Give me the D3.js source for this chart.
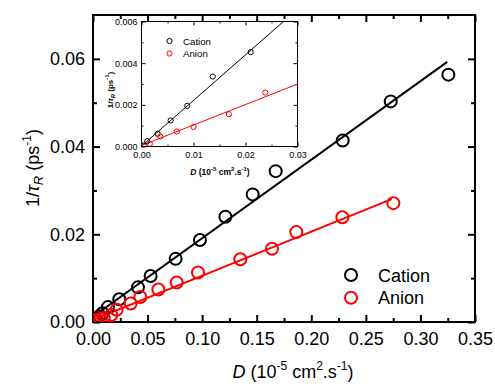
<!DOCTYPE html>
<html>
<head>
<meta charset="utf-8">
<script src="https://cdn.jsdelivr.net/npm/d3@7"></script>
<style>
  body { margin: 0; background: #fff; }
  text { font-family: Arial, "Liberation Sans", sans-serif; }
</style>
</head>
<body>
<script>
// Rotational rate 1/tau_R against diffusion coefficient D, cation and anion,
// with a zoomed inset of the low-D region.

// Main plot data: [D, 1/tauR]
var cationMain = [
  [0.0011, 0.0003], [0.0031, 0.0006], [0.0056, 0.0013], [0.0088, 0.0020],
  [0.0137, 0.0034], [0.0241, 0.0052], [0.0412, 0.0079], [0.0528, 0.0105],
  [0.0757, 0.0144], [0.0980, 0.0187], [0.1213, 0.0240], [0.1463, 0.0291],
  [0.1674, 0.0344], [0.2288, 0.0414], [0.2728, 0.0503], [0.3256, 0.0564]
];
var anionMain = [
  [0.0016, 0.0002], [0.0036, 0.0005], [0.0068, 0.0007], [0.0100, 0.0009],
  [0.0168, 0.0016], [0.0217, 0.0028], [0.0345, 0.0042], [0.0434, 0.0057],
  [0.0599, 0.0074], [0.0767, 0.0090], [0.0962, 0.0113], [0.1350, 0.0143],
  [0.1640, 0.0167], [0.1863, 0.0205], [0.2285, 0.0239], [0.2752, 0.0271]
];
// Linear fits: [intercept, slope, xStart, xEnd]
var cationFitMain = [0.0012, 0.179, 0, 0.3246];
var anionFitMain = [0.0005, 0.1005, 0, 0.2737];

// Inset data
var cationInset = [
  [0.00045, 0.00005], [0.0011, 0.00026], [0.0031, 0.00061], [0.0056, 0.00125],
  [0.0088, 0.00195], [0.0137, 0.00336], [0.0210, 0.00453]
];
var anionInset = [
  [0.0016, 0.00013], [0.0036, 0.00048], [0.0068, 0.00072], [0.0100, 0.00094],
  [0.0168, 0.00155], [0.0238, 0.00259]
];
var cationFitInset = [0.00002, 0.219, 0, 0.0273];
var anionFitInset = [0.00005, 0.0982, 0, 0.03];

var seriesNames = ['Cation', 'Anion'];
var seriesColors = ['#000000', '#ff0000'];

var mainXTicks = [0, 0.05, 0.10, 0.15, 0.20, 0.25, 0.30, 0.35];
var mainYTicks = [0, 0.02, 0.04, 0.06];
var insetXTicks = [0, 0.01, 0.02, 0.03];
var insetYTicks = [0, 0.002, 0.004, 0.006];

var width = 495, height = 384;

var svg = d3.select('body').append('svg')
  .attr('width', width)
  .attr('height', height);

// Draws a framed panel with inward ticks on all four sides.
function panel(opts) {
  var x = d3.scaleLinear().domain(opts.xDomain).range([opts.left, opts.right]),
      y = d3.scaleLinear().domain(opts.yDomain).range([opts.bottom, opts.top]),
      g = svg.append('g');

  g.append('rect')
    .attr('x', opts.left).attr('y', opts.top)
    .attr('width', opts.right - opts.left).attr('height', opts.bottom - opts.top)
    .attr('fill', '#fff');

  function midpoints(ticks) {
    return d3.pairs(ticks).map(function (p) { return (p[0] + p[1]) / 2; });
  }
  var xMinor = midpoints(opts.xTicks), yMinor = midpoints(opts.yTicks);

  function style(a) {
    a.select('.domain').remove();
    a.selectAll('line').attr('stroke', '#000').attr('stroke-width', opts.tickWidth);
    a.selectAll('text').attr('font-size', opts.fontSize).attr('fill', '#000')
      .attr('font-family', 'Arial, "Liberation Sans", sans-serif');
  }

  // bottom
  g.append('g').attr('transform', 'translate(0,' + opts.bottom + ')')
    .call(d3.axisBottom(x).tickValues(opts.xTicks).tickFormat(opts.xFormat)
      .tickSize(-opts.major).tickPadding(opts.padX)).call(style);
  g.append('g').attr('transform', 'translate(0,' + opts.bottom + ')')
    .call(d3.axisBottom(x).tickValues(xMinor).tickFormat('').tickSize(-opts.minor)).call(style);
  // top
  g.append('g').attr('transform', 'translate(0,' + opts.top + ')')
    .call(d3.axisTop(x).tickValues(opts.xTicks).tickFormat('').tickSize(-opts.major)).call(style);
  g.append('g').attr('transform', 'translate(0,' + opts.top + ')')
    .call(d3.axisTop(x).tickValues(xMinor).tickFormat('').tickSize(-opts.minor)).call(style);
  // left
  g.append('g').attr('transform', 'translate(' + opts.left + ',0)')
    .call(d3.axisLeft(y).tickValues(opts.yTicks).tickFormat(opts.yFormat)
      .tickSize(-opts.major).tickPadding(opts.padY)).call(style);
  g.append('g').attr('transform', 'translate(' + opts.left + ',0)')
    .call(d3.axisLeft(y).tickValues(yMinor).tickFormat('').tickSize(-opts.minor)).call(style);
  // right
  g.append('g').attr('transform', 'translate(' + opts.right + ',0)')
    .call(d3.axisRight(y).tickValues(opts.yTicks).tickFormat('').tickSize(-opts.major)).call(style);
  g.append('g').attr('transform', 'translate(' + opts.right + ',0)')
    .call(d3.axisRight(y).tickValues(yMinor).tickFormat('').tickSize(-opts.minor)).call(style);

  g.append('rect')
    .attr('x', opts.left).attr('y', opts.top)
    .attr('width', opts.right - opts.left).attr('height', opts.bottom - opts.top)
    .attr('fill', 'none').attr('stroke', '#000').attr('stroke-width', opts.frameWidth);

  var plot = g.append('g');
  var clipId = 'clip' + opts.name;
  g.append('clipPath').attr('id', clipId).append('rect')
    .attr('x', opts.left).attr('y', opts.top)
    .attr('width', opts.right - opts.left).attr('height', opts.bottom - opts.top);
  plot.attr('clip-path', 'url(#' + clipId + ')');

  var line = d3.line().x(function (d) { return x(d[0]); }).y(function (d) { return y(d[1]); });

  opts.series.forEach(function (s, i) {
    var f = opts.fits[i];
    var fitPts = [[f[2], f[0] + f[1] * f[2]], [f[3], f[0] + f[1] * f[3]]];
    plot.append('path').datum(fitPts)
      .attr('d', line).attr('fill', 'none')
      .attr('stroke', seriesColors[i]).attr('stroke-width', opts.lineWidth);
  });
  opts.series.forEach(function (s, i) {
    plot.selectAll('circle.s' + i).data(s).enter().append('circle')
      .attr('class', 's' + i)
      .attr('cx', function (d) { return x(d[0]); })
      .attr('cy', function (d) { return y(d[1]); })
      .attr('r', opts.r)
      .attr('fill', 'none')
      .attr('stroke', seriesColors[i])
      .attr('stroke-width', opts.markerWidth);
  });

  return { x: x, y: y, g: g };
}

var fmt2 = d3.format('.2f'), fmt3 = d3.format('.3f');

// Main panel
var main = panel({
  name: 'main', left: 93, right: 475, top: 15, bottom: 322,
  xDomain: [0, 0.35], yDomain: [0, 0.07],
  xTicks: mainXTicks, yTicks: mainYTicks,
  xFormat: fmt2, yFormat: fmt2,
  major: 7, minor: 4, padX: 10, padY: 8,
  tickWidth: 2, frameWidth: 2, fontSize: 18,
  series: [cationMain, anionMain], fits: [cationFitMain, anionFitMain],
  lineWidth: 2, r: 6, markerWidth: 2
});

// Main axis titles
var yTitle = svg.append('text')
  .attr('transform', 'translate(39,168) rotate(-90)')
  .attr('text-anchor', 'middle').attr('font-size', 18);
yTitle.append('tspan').text('1/');
yTitle.append('tspan').attr('font-style', 'italic').text('τ');
yTitle.append('tspan').attr('font-style', 'italic').attr('font-size', 13).attr('dy', 4).text('R');
yTitle.append('tspan').attr('dy', -4).text(' (ps');
yTitle.append('tspan').attr('font-size', 12).attr('dy', -8).text('-1');
yTitle.append('tspan').attr('dy', 8).text(')');

var xTitle = svg.append('text')
  .attr('x', 293).attr('y', 378)
  .attr('text-anchor', 'middle').attr('font-size', 18);
xTitle.append('tspan').attr('font-style', 'italic').text('D');
xTitle.append('tspan').text(' (10');
xTitle.append('tspan').attr('font-size', 12).attr('dy', -8).text('-5');
xTitle.append('tspan').attr('dy', 8).text(' cm');
xTitle.append('tspan').attr('font-size', 12).attr('dy', -8).text('2');
xTitle.append('tspan').attr('dy', 8).text('.s');
xTitle.append('tspan').attr('font-size', 12).attr('dy', -8).text('-1');
xTitle.append('tspan').attr('dy', 8).text(')');

// Main legend
var legendMain = svg.append('g').selectAll('g').data(seriesNames).enter().append('g')
  .attr('transform', function (d, i) { return 'translate(351,' + (275 + i * 22.7) + ')'; });
legendMain.append('circle').attr('r', 6).attr('fill', 'none')
  .attr('stroke', function (d, i) { return seriesColors[i]; }).attr('stroke-width', 2);
legendMain.append('text').attr('x', 27).attr('y', 6.5).attr('font-size', 18).text(function (d) { return d; });

// Inset panel
var inset = panel({
  name: 'inset', left: 141.5, right: 297.5, top: 21.5, bottom: 146.5,
  xDomain: [0, 0.03], yDomain: [0, 0.006],
  xTicks: insetXTicks, yTicks: insetYTicks,
  xFormat: fmt2, yFormat: fmt3,
  major: 4, minor: 2, padX: 5, padY: 4,
  tickWidth: 1, frameWidth: 1, fontSize: 9,
  series: [cationInset, anionInset], fits: [cationFitInset, anionFitInset],
  lineWidth: 1, r: 2.6, markerWidth: 1
});

var yTitleIn = svg.append('text')
  .attr('transform', 'translate(113,90) rotate(-90)')
  .attr('text-anchor', 'middle').attr('font-size', 8).attr('font-weight', 'bold');
yTitleIn.append('tspan').text('1/');
yTitleIn.append('tspan').attr('font-style', 'italic').text('τ');
yTitleIn.append('tspan').attr('font-style', 'italic').attr('font-size', 6).attr('dy', 2).text('R');
yTitleIn.append('tspan').attr('dy', -2).text(' (ps');
yTitleIn.append('tspan').attr('font-size', 6).attr('dy', -4).text('-1');
yTitleIn.append('tspan').attr('dy', 4).text(')');

var xTitleIn = svg.append('text')
  .attr('x', 220).attr('y', 175)
  .attr('text-anchor', 'middle').attr('font-size', 8.5).attr('font-weight', 'bold');
xTitleIn.append('tspan').attr('font-style', 'italic').text('D');
xTitleIn.append('tspan').text(' (10');
xTitleIn.append('tspan').attr('font-size', 6).attr('dy', -4).text('-5');
xTitleIn.append('tspan').attr('dy', 4).text(' cm');
xTitleIn.append('tspan').attr('font-size', 6).attr('dy', -4).text('2');
xTitleIn.append('tspan').attr('dy', 4).text('.s');
xTitleIn.append('tspan').attr('font-size', 6).attr('dy', -4).text('-1');
xTitleIn.append('tspan').attr('dy', 4).text(')');

var legendIn = svg.append('g').selectAll('g').data(seriesNames).enter().append('g')
  .attr('transform', function (d, i) { return 'translate(169.5,' + (41 + i * 12.5) + ')'; });
legendIn.append('circle').attr('r', 2.6).attr('fill', 'none')
  .attr('stroke', function (d, i) { return seriesColors[i]; }).attr('stroke-width', 1);
legendIn.append('text').attr('x', 13.5).attr('y', 3.5).attr('font-size', 9.7).text(function (d) { return d; });
</script>
</body>
</html>
